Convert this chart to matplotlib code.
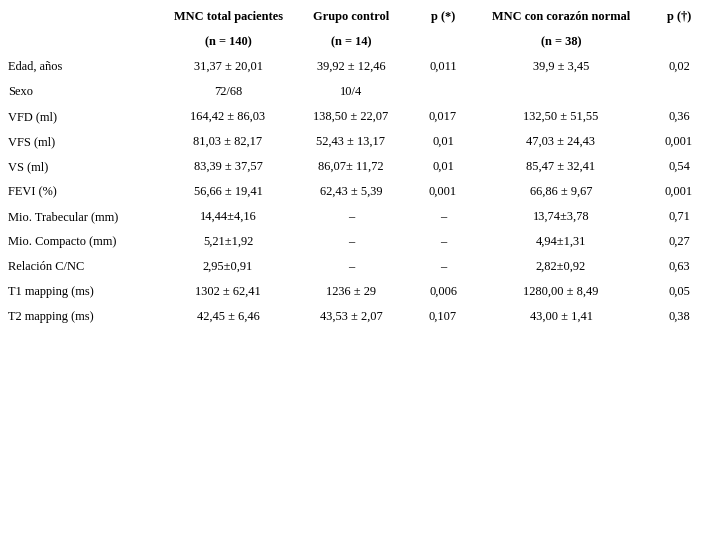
import matplotlib.pyplot as plt

headers1 = ["MNC total pacientes", "Grupo control", "p (*)", "MNC con corazón normal", "p (†)"]
headers2 = ["(n = 140)", "(n = 14)", "", "(n = 38)", ""]
row_labels = ["Edad, años", "Sexo", "VFD (ml)", "VFS (ml)", "VS (ml)", "FEVI (%)",
              "Mio. Trabecular (mm)", "Mio. Compacto (mm)", "Relación C/NC",
              "T1 mapping (ms)", "T2 mapping (ms)"]
col_total = ["31,37 ± 20,01", "72/68", "164,42 ± 86,03", "81,03 ± 82,17", "83,39 ± 37,57",
             "56,66 ± 19,41", "14,44±4,16", "5,21±1,92", "2,95±0,91", "1302 ± 62,41", "42,45 ± 6,46"]
col_control = ["39,92 ± 12,46", "10/4", "138,50 ± 22,07", "52,43 ± 13,17", "86,07± 11,72",
               "62,43 ± 5,39", "–", "–", "–", "1236 ± 29", "43,53 ± 2,07"]
col_p1 = ["0,011", "", "0,017", "0,01", "0,01", "0,001", "–", "–", "–", "0,006", "0,107"]
col_normal = ["39,9 ± 3,45", "", "132,50 ± 51,55", "47,03 ± 24,43", "85,47 ± 32,41",
              "66,86 ± 9,67", "13,74±3,78", "4,94±1,31", "2,82±0,92", "1280,00 ± 8,49", "43,00 ± 1,41"]
col_p2 = ["0,02", "", "0,36", "0,001", "0,54", "0,001", "0,71", "0,27", "0,63", "0,05", "0,38"]

W, H = 708, 554
fig = plt.figure(figsize=(W/100, H/100), dpi=100)
ax = fig.add_axes([0, 0, 1, 1])
ax.set_xlim(0, W); ax.set_ylim(H, 0); ax.axis("off")
fam = ["Liberation Serif", "DejaVu Serif"]
fs = 8.9
xs = [228, 351, 443, 561, 679]
for x, h1, h2 in zip(xs, headers1, headers2):
    ax.text(x, 17, h1, ha="center", va="center", fontsize=fs, family=fam, fontweight="bold")
    if h2:
        ax.text(x, 42, h2, ha="center", va="center", fontsize=fs, family=fam, fontweight="bold")
cols = [col_total, col_control, col_p1, col_normal, col_p2]
for i, lab in enumerate(row_labels):
    y = 67 + 25 * i
    ax.text(8, y, lab, ha="left", va="center", fontsize=fs, family=fam)
    for x, c in zip(xs, cols):
        ax.text(x, y, c[i], ha="center", va="center", fontsize=fs, family=fam)
fig.savefig("out.png", dpi=100)
